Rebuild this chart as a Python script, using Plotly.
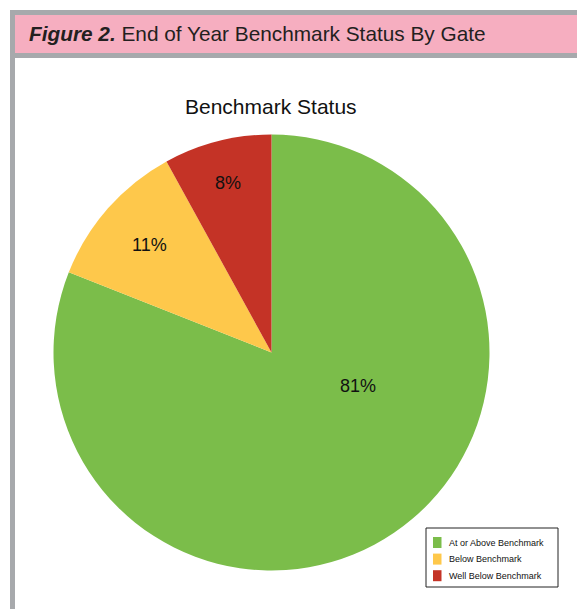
import plotly.graph_objects as go

W, H = 577, 609

categories = ["At or Above Benchmark", "Below Benchmark", "Well Below Benchmark"]
values = [81, 11, 8]
colors = ["#7BBD4A", "#FEC84B", "#C43326"]

FONT = "Liberation Sans, Arial, Helvetica, sans-serif"


def px(x):
    return x / W


def py(y):
    return 1 - y / H


cx, cy, r = 271.5, 352.5, 218
total = sum(values)
pcts = [round(100 * v / total) for v in values]

# the largest slice's label sits off its bisector in the reference; place it by hand
text_pos = ["none", "inside", "inside"]

fig = go.Figure(
    go.Pie(
        labels=categories,
        values=values,
        marker=dict(colors=colors, line=dict(width=0)),
        sort=False,
        direction="clockwise",
        rotation=0,
        textinfo="percent",
        textposition=text_pos,
        insidetextorientation="horizontal",
        textfont=dict(family=FONT, size=18, color="#111111"),
        hoverinfo="label+percent",
        showlegend=False,
        domain=dict(x=[px(cx - r), px(cx + r)], y=[py(cy + r), py(cy - r)]),
    )
)

shapes = [
    dict(type="rect", xref="paper", yref="paper", x0=px(10), x1=px(577), y0=py(58), y1=py(10),
         fillcolor="#A7A9AC", line=dict(width=0), layer="below"),
    dict(type="rect", xref="paper", yref="paper", x0=px(15), x1=px(577), y0=py(53), y1=py(15),
         fillcolor="#F6AEC0", line=dict(width=0), layer="below"),
    dict(type="rect", xref="paper", yref="paper", x0=px(10), x1=px(15), y0=py(609), y1=py(58),
         fillcolor="#A7A9AC", line=dict(width=0), layer="below"),
    # legend box
    dict(type="rect", xref="paper", yref="paper", x0=px(426), x1=px(558), y0=py(587), y1=py(528),
         fillcolor="white", line=dict(width=1, color="#222222")),
]

annotations = [
    dict(text="<b><i>Figure 2.</i></b> End of Year Benchmark Status By Gate",
         xref="paper", yref="paper", x=px(26.5), y=py(33.5), xanchor="left", yanchor="middle",
         showarrow=False, font=dict(family=FONT, size=20.8, color="#231F20")),
    dict(text="Benchmark Status", xref="paper", yref="paper", x=px(271), y=py(106),
         xanchor="center", yanchor="middle", showarrow=False,
         font=dict(family=FONT, size=21, color="#111111")),
    dict(text=f"{pcts[0]}%", xref="paper", yref="paper", x=px(358), y=py(386),
         xanchor="center", yanchor="middle", showarrow=False,
         font=dict(family=FONT, size=18, color="#111111")),
]

# legend rows
row0, pitch = 542.5, 16.6
for i, (lab, col) in enumerate(zip(categories, colors)):
    yc = row0 + i * pitch
    shapes.append(dict(type="rect", xref="paper", yref="paper",
                       x0=px(433), x1=px(441.5), y0=py(yc + 5.5), y1=py(yc - 5.5),
                       fillcolor=col, line=dict(width=0)))
    annotations.append(dict(text=lab, xref="paper", yref="paper", x=px(447), y=py(yc),
                            xanchor="left", yanchor="middle", showarrow=False,
                            font=dict(family=FONT, size=9, color="#111111")))

fig.update_layout(
    width=W,
    height=H,
    margin=dict(l=0, r=0, t=0, b=0),
    paper_bgcolor="white",
    plot_bgcolor="white",
    shapes=shapes,
    annotations=annotations,
    showlegend=False,
)

fig.write_html(
    "out.html",
    config={"displayModeBar": False},
    post_script="document.body.style.margin='0';document.body.style.padding='0';",
)
